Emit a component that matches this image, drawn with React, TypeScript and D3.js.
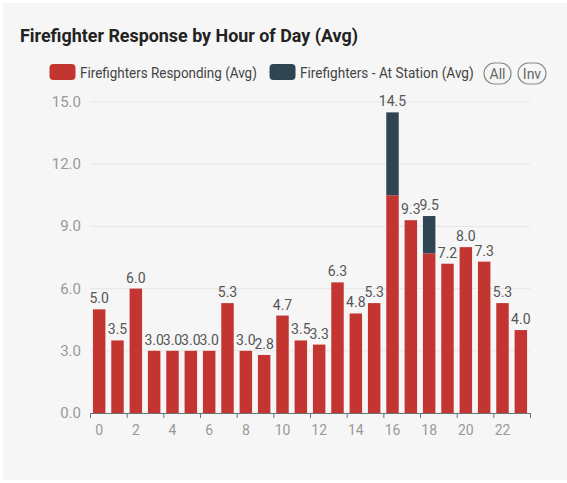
import React, { useLayoutEffect, useRef, useState } from "react";
import * as d3 from "d3";

// Average firefighters per hour of day
const hours: number[] = d3.range(0, 24);
const responding: number[] = [5.0, 3.5, 6.0, 3.0, 3.0, 3.0, 3.0, 5.3, 3.0, 2.8, 4.7, 3.5, 3.3, 6.3, 4.8, 5.3, 10.5, 9.3, 7.7, 7.2, 8.0, 7.3, 5.3, 4.0];
const atStation: number[] = [0, 0, 0, 0, 0, 0, 0, 0, 0, 0, 0, 0, 0, 0, 0, 0, 4.0, 0, 1.8, 0, 0, 0, 0, 0];
const yTicks: number[] = [0, 3, 6, 9, 12, 15];
const seriesNames: string[] = ["Firefighters Responding (Avg)", "Firefighters - At Station (Avg)"];
const seriesColors: string[] = ["#c23531", "#2f4554"];

const W = 567;
const H = 483;
const FONT = "'Roboto', 'Liberation Sans', sans-serif";

// Text squeezed horizontally to a given width (condensed look)
function FitText(props: { x: number; y: number; width: number; size: number; weight?: number; fill: string; children: string }) {
  const ref = useRef<SVGTextElement>(null);
  const [sx, setSx] = useState(1);
  useLayoutEffect(() => {
    if (ref.current) {
      const n = ref.current.getComputedTextLength();
      if (n > 0) setSx(props.width / n);
    }
  }, [props.width, props.children]);
  return (
    <text
      ref={ref}
      transform={`translate(${props.x},${props.y}) scale(${sx},1)`}
      fontFamily={FONT}
      fontSize={props.size}
      fontWeight={props.weight ?? 400}
      fill={props.fill}
    >
      {props.children}
    </text>
  );
}

export default function App() {
  const x = d3.scaleBand<number>().domain(hours).range([90, 530]).paddingInner(0).paddingOuter(0);
  const y = d3.scaleLinear().domain([0, 15]).range([413, 102]);
  const bw = x.bandwidth() * 0.68;
  const stacked = d3.stack<number>().keys(["r", "s"]).value((i, k) => (k === "r" ? responding[i] : atStation[i]))(hours);

  return (
    <svg width={W} height={H} style={{ position: "absolute", left: 0, top: 0, display: "block" }}>
      <rect x={0} y={0} width={W} height={H} fill="#ffffff" />
      <rect x={3} y={3} width={564} height={477} fill="#f6f6f6" />

      <FitText x={20} y={42} width={338} size={18} weight={700} fill="#222">
        Firefighter Response by Hour of Day (Avg)
      </FitText>

      {/* legend */}
      <rect x={49.5} y={64} width={26} height={16} rx={4} fill={seriesColors[0]} />
      <FitText x={80} y={77.5} width={177} size={15} fill="#444">
        {seriesNames[0]}
      </FitText>
      <rect x={269.5} y={64} width={26} height={16} rx={4} fill={seriesColors[1]} />
      <FitText x={300} y={77.5} width={174} size={15} fill="#444">
        {seriesNames[1]}
      </FitText>
      {[
        { label: "All", x0: 484, w: 27 },
        { label: "Inv", x0: 518, w: 28 },
      ].map((b) => (
        <g key={b.label}>
          <rect x={b.x0} y={63} width={b.w} height={21} rx={10.5} fill="none" stroke="#8a8a8a" strokeWidth={1.2} />
          <text x={b.x0 + b.w / 2} y={78.5} textAnchor="middle" fontFamily={FONT} fontSize={14} fill="#666">
            {b.label}
          </text>
        </g>
      ))}

      {/* grid and y labels */}
      {yTicks.map((t) => (
        <g key={t}>
          {t > 0 && <line x1={90} x2={530} y1={y(t)} y2={y(t)} stroke="#e6e6e6" strokeWidth={1} />}
          <text x={81} y={y(t) + 5} textAnchor="end" fontFamily={FONT} fontSize={15} fill="#999">
            {t.toFixed(1)}
          </text>
        </g>
      ))}

      {/* bars */}
      {stacked.map((layer, li) =>
        layer.map((d, i) =>
          d[1] - d[0] > 0 ? (
            <rect
              key={`${li}-${i}`}
              x={(x(hours[i]) as number) + (x.bandwidth() - bw) / 2}
              y={y(d[1])}
              width={bw}
              height={y(d[0]) - y(d[1])}
              fill={seriesColors[li]}
            />
          ) : null
        )
      )}

      {/* total labels */}
      {hours.map((h, i) => {
        const total = responding[i] + atStation[i];
        return (
          <text key={h} x={(x(h) as number) + x.bandwidth() / 2} y={y(total) - 6} textAnchor="middle" fontFamily={FONT} fontSize={14} fill="#555">
            {total.toFixed(1)}
          </text>
        );
      })}

      {/* x axis */}
      <line x1={90} x2={531} y1={413.5} y2={413.5} stroke="#6e7079" strokeWidth={1} />
      {hours.filter((h) => h % 2 === 0).map((h) => (
        <line key={`t${h}`} x1={(x(h) as number) + 0.5} x2={(x(h) as number) + 0.5} y1={413} y2={418} stroke="#6e7079" strokeWidth={1} />
      ))}
      <line x1={530.5} x2={530.5} y1={413} y2={418} stroke="#6e7079" strokeWidth={1} />
      {hours.filter((h) => h % 2 === 0).map((h) => (
        <text key={`l${h}`} x={(x(h) as number) + x.bandwidth() / 2} y={435} textAnchor="middle" fontFamily={FONT} fontSize={14} fill="#999">
          {h}
        </text>
      ))}
    </svg>
  );
}
